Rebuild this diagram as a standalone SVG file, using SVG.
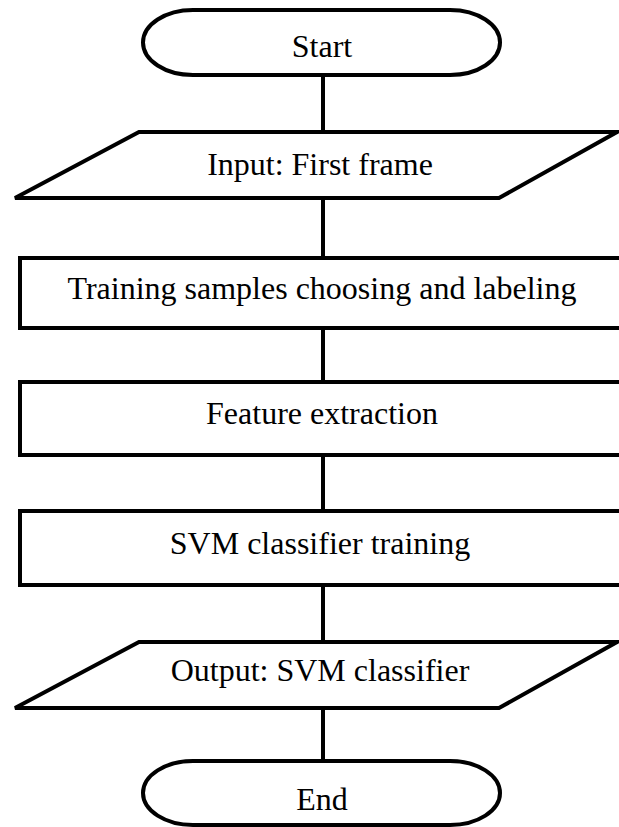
<svg xmlns="http://www.w3.org/2000/svg" width="619" height="827" viewBox="0 0 619 827">
<style>
.shape{fill:#fff;stroke:#000;stroke-width:4;stroke-linejoin:miter}
.conn{stroke:#000;stroke-width:4;fill:none}
text{font-family:"Liberation Serif","Times New Roman",serif;font-size:32px;fill:#000;text-anchor:middle}
</style>
<rect width="619" height="827" fill="#fff"/>
<g id="connectors">
<line class="conn" x1="323" y1="75" x2="323" y2="132"/>
<line class="conn" x1="323" y1="198" x2="323" y2="258"/>
<line class="conn" x1="323" y1="328" x2="323" y2="382"/>
<line class="conn" x1="323" y1="455" x2="323" y2="511"/>
<line class="conn" x1="323" y1="585" x2="323" y2="642"/>
<line class="conn" x1="323" y1="708" x2="323" y2="761"/>
</g>
<g id="start">
<path class="shape" d="M193,10 H450 A50,32.5 0 0 1 450,75 H193 A50,32.5 0 0 1 193,10 Z"/>
<text x="322" y="57">Start</text>
</g>
<g id="input">
<polygon class="shape" points="139,132 617,132 499,198 15,198"/>
<text x="320" y="175">Input: First frame</text>
</g>
<g id="training">
<rect class="shape" x="20" y="258" width="610" height="70"/>
<text x="322" y="299">Training samples choosing and labeling</text>
</g>
<g id="feature">
<rect class="shape" x="20" y="382" width="610" height="73"/>
<text x="322" y="424">Feature extraction</text>
</g>
<g id="svm">
<rect class="shape" x="20" y="511" width="610" height="74"/>
<text x="320" y="554">SVM classifier training</text>
</g>
<g id="output">
<polygon class="shape" points="139,642 617,642 499,708 15,708"/>
<text x="320" y="681">Output: SVM classifier</text>
</g>
<g id="end">
<path class="shape" d="M193,761 H450 A50,32 0 0 1 450,825 H193 A50,32 0 0 1 193,761 Z"/>
<text x="322" y="810">End</text>
</g>
</svg>
